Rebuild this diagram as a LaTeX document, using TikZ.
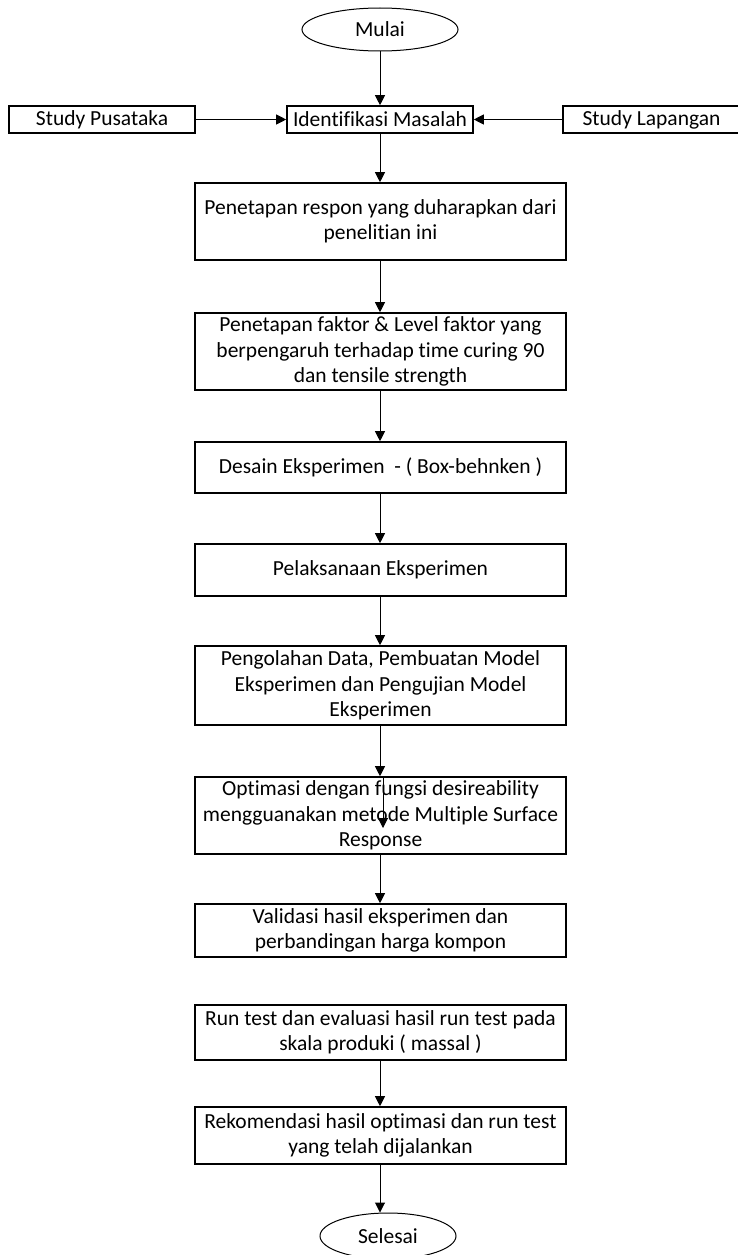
\documentclass[tikz,border=0pt]{standalone}
\usepackage{fontspec}
\setmainfont{Carlito}[Ligatures=CommonOff]
\usetikzlibrary{shapes.geometric,arrows.meta}
\begin{document}
\begin{tikzpicture}[x=1pt,y=-1pt,
  box/.style={draw,line width=1.6pt,rectangle,inner sep=0pt,align=center,
    font=\fontsize{21.5}{25.5}\selectfont},
  term/.style={draw,line width=1pt,ellipse,inner sep=0pt,
    font=\fontsize{21.5}{25.5}\selectfont},
  arr/.style={line width=1pt,-{Triangle[length=10pt,width=10pt]}}]
\useasboundingbox (0,0) rectangle (737,1255);
\node[term,minimum width=156pt,minimum height=43pt] (mulai) at (380,29.5) {Mulai};
\node[box,minimum width=186pt,minimum height=27pt] (ident) at (380,119.5) {Identifikasi Masalah};
\node[box,minimum width=186pt,minimum height=27pt] (pus) at (102,119.5) {Study Pusataka};
\node[box,minimum width=177pt,minimum height=27pt] (lap) at (651.5,119.5) {Study Lapangan};
\node[box,minimum width=371pt,minimum height=77pt] (resp) at (380.5,221.5) {Penetapan respon yang duharapkan dari\\penelitian ini};
\node[box,minimum width=371pt,minimum height=77pt] (fak) at (380.5,351.5) {Penetapan faktor \& Level faktor yang\\berpengaruh terhadap time curing 90\\dan tensile strength};
\node[box,minimum width=371pt,minimum height=51pt] (des) at (380.5,467.5) {Desain Eksperimen\ \ - ( Box-behnken )};
\node[box,minimum width=371pt,minimum height=52pt] (pel) at (380.5,570) {Pelaksanaan Eksperimen};
\node[box,minimum width=371pt,minimum height=79pt] (peng) at (380.5,685.5) {Pengolahan Data, Pembuatan Model\\Eksperimen dan Pengujian Model\\Eksperimen};
\node[box,minimum width=371pt,minimum height=77pt] (opt) at (380.5,815.5) {Optimasi dengan fungsi desireability\\mengguanakan metode Multiple Surface\\Response};
\node[box,minimum width=371pt,minimum height=53pt] (val) at (380.5,930.5) {Validasi hasil eksperimen dan\\perbandingan harga kompon};
\node[box,minimum width=371pt,minimum height=55pt] (run) at (380.5,1032.5) {Run test dan evaluasi hasil run test pada\\skala produki ( massal )};
\node[box,minimum width=371pt,minimum height=57pt] (rek) at (380.5,1135.5) {Rekomendasi hasil optimasi dan run test\\yang telah dijalankan};
\node[term,minimum width=136pt,minimum height=46pt] (sel) at (388,1236) {Selesai};
\coordinate (s1) at (383,777);
\coordinate (s2) at (383,828);
\draw[arr] (mulai.south -| 380,0) -- (ident.north -| 380,0);
\draw[arr] (pus.east) -- (ident.west);
\draw[arr] (lap.west) -- (ident.east);
\draw[arr] (ident.south -| 380,0) -- (resp.north -| 380,0);
\draw[arr] (resp.south -| 380,0) -- (fak.north -| 380,0);
\draw[arr] (fak.south -| 380,0) -- (des.north -| 380,0);
\draw[arr] (des.south -| 380,0) -- (pel.north -| 380,0);
\draw[arr] (pel.south -| 380,0) -- (peng.north -| 380,0);
\draw[arr] (peng.south -| 380,0) -- (opt.north -| 380,0);
\draw[arr] (s1) -- (s2);
\draw[arr] (opt.south -| 380,0) -- (val.north -| 380,0);
\draw[arr] (run.south -| 380,0) -- (rek.north -| 380,0);
\draw[arr] (rek.south -| 380,0) -- (sel.north -| 380,0);
\end{tikzpicture}
\end{document}
